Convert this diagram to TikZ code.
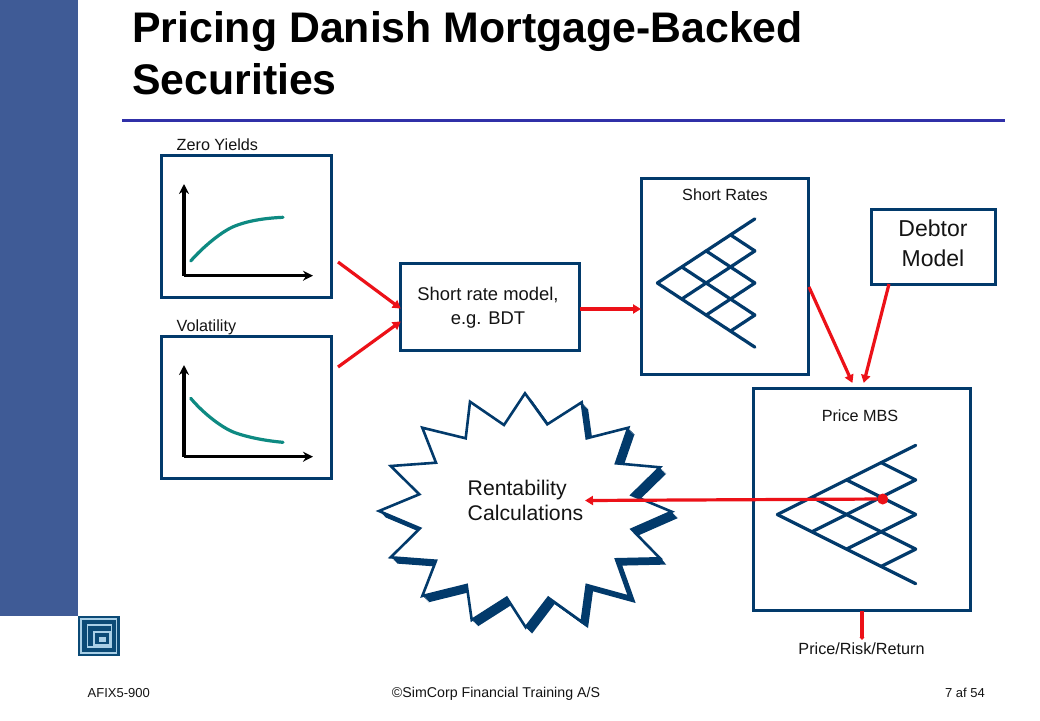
\documentclass[tikz,border=0pt]{standalone}
\usepackage{fontspec}
\setmainfont{Liberation Sans}
\usetikzlibrary{arrows.meta}
\definecolor{navy}{HTML}{023A6B}
\definecolor{side}{HTML}{3F5B96}
\definecolor{rulec}{HTML}{3030A8}
\definecolor{redl}{HTML}{EC1118}
\definecolor{tealc}{HTML}{0E8A82}
\definecolor{logoc}{HTML}{0B4A76}
\definecolor{logol}{HTML}{A9CFE6}
\definecolor{txt}{HTML}{141414}
\tikzset{
  x=1pt,y=-1pt,
  panel/.style={draw=navy,line width=3pt,fill=white,rectangle,inner sep=0pt},
  inner/.style={align=center,text=txt,inner sep=0pt},
  lab/.style={font=\fontsize{16.2}{18}\selectfont,text=txt,inner sep=0pt},
  foot/.style={font=\fontsize{13}{15}\selectfont,text=txt,inner sep=0pt},
  ttl/.style={font=\fontsize{42.8}{46}\selectfont\bfseries,text=black,inner sep=0pt,anchor=base west},
  redarrow/.style={draw=redl,line width=3.2pt,-{Triangle[length=8pt,width=9pt]},shorten >=-1pt},
  axis/.style={draw=black,line width=3.2pt,-{Stealth[length=10pt,width=10pt]}},
  curve/.style={draw=tealc,line width=3.2pt,line cap=round},
  lattice/.style={draw=navy,line width=3.2pt,line cap=round,line join=round},
}
\newcommand{\treelines}[4]{%
  \def\rx{#1}\def\ry{#2}\def\dx{#3}\def\dy{#4}%
  \foreach \a/\b/\c/\d in {0/0/4/-4,0/0/4/4,1/-1/4/2,2/-2/4/0,3/-3/4/-2,1/1/4/-2,2/2/4/0,3/3/4/2}{
    \draw[lattice] ({\rx+\a*\dx},{\ry+\b*\dy}) -- ({\rx+\c*\dx},{\ry+\d*\dy});
  }%
}
\newcommand{\starpath}{%
 (525,393.3) -- (547.3,424.3) -- (581.7,402.3) -- (586.7,438.3) -- (628.3,427.7) -- (616,463.3) -- (660,467.3) -- (631.7,495) -- (671.7,511.7) -- (631.7,529.3) -- (660,558.3) -- (616,559.3) -- (629.3,596.7) -- (586.7,585) -- (581.7,621.7) -- (548.3,597.7) -- (525.7,627.3) -- (506.7,597.7) -- (471.7,620) -- (466.7,585) -- (422.3,596) -- (436,560.7) -- (390.7,557.3) -- (420,528.3) -- (379,511) -- (419.3,494.3) -- (390.7,466) -- (436,462.7) -- (422.3,427.7) -- (465.7,438.3) -- (470,401.7) -- (504,425) -- cycle}
\begin{document}
\begin{tikzpicture}
\useasboundingbox (0,0) rectangle (1040,720);
\fill[white] (0,0) rectangle (1040,720);
% sidebar and logo
\fill[side] (0,0) rectangle (78,616);
\fill[logoc] (78,616) rectangle (120,656);
\draw[logol,line width=1.2pt] (81,619) rectangle (116.5,653);
\draw[logol,line width=1.2pt] (87.5,625) rectangle (111.5,647);
\draw[logol,line width=1.2pt] (94,632) rectangle (110,645);
\fill[logol] (99,636.5) rectangle (106,642);
% title
\node[ttl] (t1) at (132,42.5) {Pricing Danish Mortgage-Backed};
\node[ttl] (t2) at (132,94) {Securities};
\draw[rulec,line width=3pt] (122,120) -- (1005,120);
% graph panels
\node[panel,minimum width=170pt,minimum height=142pt] (zero) at (246,226.5) {};
\node[panel,minimum width=170pt,minimum height=142pt] (vol) at (246,407) {};
\node[panel,minimum width=179pt,minimum height=87pt] (srm) at (489.5,306.5) {};
\node[inner,font=\fontsize{18.4}{23.5}\selectfont] (srmt) at (488,307.5) {Short rate model,\\e.g. BDT};
\node[panel,minimum width=167pt,minimum height=196pt] (srates) at (724.5,276) {};
\node[panel,minimum width=124pt,minimum height=75pt] (debtor) at (933,246.5) {};
\node[inner,font=\fontsize{23}{30}\selectfont] (debtort) at (933,243) {Debtor\\Model};
\node[panel,minimum width=217pt,minimum height=222pt] (mbs) at (861.5,499) {};
% labels
\node[lab,anchor=base west] (zl) at (176.5,150) {Zero Yields};
\node[lab,anchor=base west] (vl) at (176.5,331) {Volatility};
\node[lab,anchor=base] (sl) at (725,200.5) {Short Rates};
\node[lab,anchor=base] (ml) at (860,421) {Price MBS};
\node[lab,anchor=base] (prr) at (861.5,654.5) {Price/Risk/Return};
% axes and curves
\coordinate (zo) at (184,275.7);
\coordinate (zy) at (184,184);
\coordinate (zx) at (313,275.7);
\draw[axis] (zo) -- (zy);
\draw[axis] (zo) -- (zx);
\draw[curve] (190.7,261) .. controls (203,247) and (222,231) .. (235,226) .. controls (250,220) and (268,218) .. (283,217.3);
\coordinate (vo) at (184,456.7);
\coordinate (vy) at (184,365);
\coordinate (vx) at (313,456.7);
\draw[axis] (vo) -- (vy);
\draw[axis] (vo) -- (vx);
\draw[curve] (190.7,398.3) .. controls (203,413) and (222,428) .. (235,432.7) .. controls (250,438) and (268,441) .. (283,442.3);
% trees
\treelines{657.3}{283}{24.4}{16.04}
\treelines{777.3}{514.5}{34.6}{17.3}
% burst
\foreach \s in {1,...,7}{\fill[navy,shift={(\s*0.9,\s*0.9)}] \starpath;}
\draw[navy,fill=white,line width=2.6pt,line join=miter] \starpath;
\node[align=left,anchor=north west,inner sep=0pt,font=\fontsize{21.2}{25}\selectfont,text=txt] (rent) at (467.5,479.5) {Rentability\\Calculations};
% connectors
\coordinate (a1) at (338,262);
\coordinate (a1e) at (400,308);
\coordinate (a2) at (338,367);
\coordinate (a2e) at (400,322);
\draw[redarrow] (a1) -- (a1e);
\draw[redarrow] (a2) -- (a2e);
\coordinate (b1) at (580,309);
\coordinate (b2) at (640,309);
\draw[redarrow] (b1) -- (b2);
\coordinate (c1) at (809,287);
\coordinate (c2) at (852,382);
\draw[redarrow] (c1) -- (c2);
\coordinate (d1) at (889,284);
\coordinate (d2) at (864,382);
\draw[redarrow] (d1) -- (d2);
\coordinate (e1) at (862,611);
\coordinate (e2) at (862,639);
\draw[redarrow,-{Triangle[length=3pt,width=5pt]}] (e1) -- (e2);
\node[circle,fill=redl,inner sep=0pt,minimum size=11pt] (dot) at (882.7,499) {};
\coordinate (f2) at (586,500.5);
\draw[redarrow] (dot) -- (f2);
% footer
\node[foot,anchor=base west] (fa) at (87.5,697) {AFIX5-900};
\node[foot,anchor=base,font=\fontsize{14.2}{16}\selectfont] (fb) at (496,697) {©SimCorp Financial Training A/S};
\node[foot,anchor=base east] (fc) at (985,697) {7 af 54};
\end{tikzpicture}
\end{document}
